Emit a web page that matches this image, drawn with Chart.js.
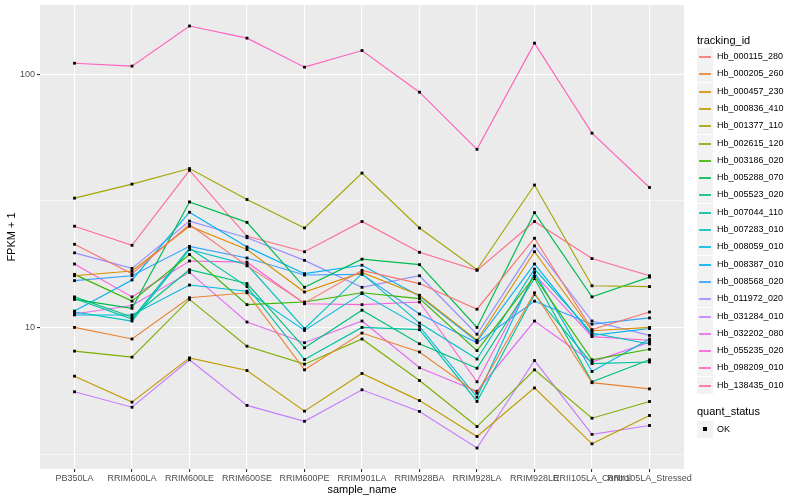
<!DOCTYPE html>
<html>
<head>
<meta charset="utf-8">
<script src="https://cdn.jsdelivr.net/npm/chart.js@4/dist/chart.umd.min.js"></script>
<style>
  body { margin: 0; background: #fff; font-family: "Liberation Sans", Arial, sans-serif; }
  #wrap { position: relative; width: 800px; height: 500px; }
  #chart { position: absolute; left: 0; top: 0; }
  .lg-title { position: absolute; left: 697px; font-size: 11px; color: #000; line-height: 1; }
  .lg-row { position: absolute; left: 697px; height: 17px; }
  .lg-key { position: absolute; left: 0; top: 0; width: 16px; height: 17px; background: #f2f2f2; }
  .lg-key i { position: absolute; left: 2px; right: 2px; top: 8px; height: 2px; opacity: 0.85; }
  .lg-key b { position: absolute; left: 6px; top: 6px; width: 4px; height: 4px; background: #000; }
  .lg-text { position: absolute; left: 20px; top: 3px; font-size: 9px; color: #000; white-space: nowrap; line-height: 1.2; }
</style>
</head>
<body>
<div id="wrap">
  <canvas id="chart" width="800" height="500"></canvas>
  <div id="legend"></div>
</div>
<script>
const categories = ["PB350LA", "RRIM600LA", "RRIM600LE", "RRIM600SE", "RRIM600PE", "RRIM901LA",
  "RRIM928BA", "RRIM928LA", "RRIM928LE", "RRII105LA_Control", "RRII105LA_Stressed"];

const hb_000115_280 = [21.3, 16.3, 25.5, 17.5, 12.5, 16.8, 14.9, 11.8, 22.5, 9.8, 11.5];
const hb_000205_260 = [10.0, 9.0, 13.1, 13.7, 6.8, 9.5, 8.0, 5.5, 13.7, 6.05, 5.72];
const hb_000457_230 = [16.0, 16.7, 25.1, 20.3, 13.8, 16.5, 13.4, 8.9, 19.9, 9.7, 10.0];
const hb_000836_410 = [6.42, 5.07, 7.58, 6.76, 4.67, 6.58, 5.14, 3.71, 5.77, 3.47, 4.49];
const hb_001377_110 = [32.4, 36.8, 42.4, 32.0, 24.7, 40.7, 24.7, 16.9, 36.5, 14.6, 14.5];
const hb_002615_120 = [8.06, 7.63, 12.9, 8.43, 7.16, 9.0, 6.17, 4.06, 6.8, 4.38, 5.1];
const hb_003186_020 = [16.2, 12.7, 19.4, 12.3, 12.6, 13.7, 13.0, 8.1, 15.9, 7.45, 8.2];
const hb_005288_070 = [12.9, 11.9, 31.3, 26.0, 14.4, 18.6, 17.7, 10.0, 28.4, 13.2, 15.8];
const hb_005523_020 = [13.2, 11.0, 16.9, 14.9, 8.31, 11.7, 8.62, 6.9, 15.6, 6.1, 7.45];
const hb_007044_110 = [13.0, 10.8, 20.6, 14.5, 7.47, 10.0, 9.8, 5.1, 13.5, 7.2, 7.3];
const hb_007283_010 = [11.5, 10.6, 20.3, 17.7, 9.88, 16.3, 10.4, 7.5, 17.0, 9.5, 8.6];
const hb_008059_010 = [11.2, 11.2, 14.7, 13.9, 9.73, 13.6, 10.1, 5.3, 16.5, 6.7, 9.0];
const hb_008387_010 = [11.6, 15.4, 28.5, 20.8, 16.3, 17.6, 13.3, 8.8, 17.8, 9.3, 9.9];
const hb_008568_020 = [15.3, 16.0, 20.9, 18.8, 16.1, 16.2, 11.3, 8.7, 12.7, 10.3, 10.9];
const hb_011972_020 = [19.7, 17.1, 26.3, 22.6, 18.4, 14.4, 16.0, 9.4, 21.0, 10.6, 9.3];
const hb_031284_010 = [5.57, 4.84, 7.45, 4.92, 4.26, 5.67, 4.66, 3.34, 7.4, 3.78, 4.1];
const hb_032202_080 = [11.3, 12.2, 16.5, 10.5, 8.70, 10.6, 6.93, 5.6, 10.6, 7.3, 8.75];
const hb_055235_020 = [17.8, 13.2, 18.3, 18.1, 12.4, 12.3, 12.6, 6.1, 16.2, 9.2, 8.9];
const hb_098209_010 = [110.5, 107.6, 155, 138.8, 106.6, 124, 84.9, 50.5, 132.6, 58.5, 35.7];
const hb_138435_010 = [25.1, 21.1, 41.7, 22.9, 19.9, 26.2, 19.8, 16.8, 26.2, 18.7, 16.0];

const trackingIds = ["Hb_000115_280", "Hb_000205_260", "Hb_000457_230", "Hb_000836_410", "Hb_001377_110",
  "Hb_002615_120", "Hb_003186_020", "Hb_005288_070", "Hb_005523_020", "Hb_007044_110", "Hb_007283_010",
  "Hb_008059_010", "Hb_008387_010", "Hb_008568_020", "Hb_011972_020", "Hb_031284_010", "Hb_032202_080",
  "Hb_055235_020", "Hb_098209_010", "Hb_138435_010"];
const seriesValues = [hb_000115_280, hb_000205_260, hb_000457_230, hb_000836_410, hb_001377_110,
  hb_002615_120, hb_003186_020, hb_005288_070, hb_005523_020, hb_007044_110, hb_007283_010,
  hb_008059_010, hb_008387_010, hb_008568_020, hb_011972_020, hb_031284_010, hb_032202_080,
  hb_055235_020, hb_098209_010, hb_138435_010];
const yTicks = [3.1623, 10, 31.623, 100];
const yLabels = { 10: "10", 100: "100" };

// ggplot default hue palette for 20 levels
const colors = ["#F8766D", "#EA8331", "#D89000", "#C09B00", "#A3A500", "#7CAE00", "#39B600", "#00BB4E",
  "#00BF7D", "#00C1A3", "#00BFC4", "#00BAE0", "#00B0F6", "#35A2FF", "#9590FF", "#C77CFF", "#E76BF3",
  "#FA62DB", "#FF62BC", "#FF6C91"];

const panelBg = {
  id: "panelBg",
  beforeDraw(chart) {
    const { ctx, chartArea: a } = chart;
    ctx.save();
    ctx.fillStyle = "#EBEBEB";
    ctx.fillRect(a.left, a.top, a.right - a.left, a.bottom - a.top);
    ctx.restore();
  }
};

const datasets = seriesValues.map((vals, i) => ({
  label: trackingIds[i],
  data: vals.map((v, j) => ({ x: j, y: v })),
  borderColor: colors[i],
  borderWidth: 1.15,
  pointStyle: "rect",
  pointRadius: 2,
  pointBackgroundColor: "#000",
  pointBorderColor: "#000",
  pointBorderWidth: 0,
  tension: 0
}));

const font = { family: "'Liberation Sans', Arial, sans-serif" };

new Chart(document.getElementById("chart").getContext("2d"), {
  type: "line",
  data: { datasets },
  plugins: [panelBg],
  options: {
    responsive: false,
    animation: false,
    layout: { padding: { top: 5, right: 116, left: 0, bottom: 0 } },
    plugins: { legend: { display: false }, tooltip: { enabled: false } },
    scales: {
      x: {
        type: "linear",
        min: -0.6,
        max: 10.6,
        afterBuildTicks: (s) => { s.ticks = categories.map((_, i) => ({ value: i })); },
        afterFit: (s) => { s.height = 31; s.paddingLeft = 0; s.paddingRight = 0; },
        border: { display: false },
        grid: { color: "#FFFFFF", lineWidth: 1.1, tickColor: "#333333", tickLength: 3 },
        ticks: {
          autoSkip: false, maxRotation: 0, padding: 1, color: "#4D4D4D",
          font: { ...font, size: 9 },
          callback: (v) => categories[v]
        },
        title: { display: true, text: "sample_name", color: "#000", font: { ...font, size: 11 }, padding: { top: 0, bottom: 3 } }
      },
      y: {
        type: "logarithmic",
        min: 2.76,
        max: 187.6,
        afterBuildTicks: (s) => { s.ticks = yTicks.map((v) => ({ value: v })); },
        afterFit: (s) => { s.width = 40; s.paddingTop = 0; s.paddingBottom = 0; },
        border: { display: false },
        grid: {
          color: "#FFFFFF",
          lineWidth: (c) => (yLabels[c.tick.value] ? 1.1 : 0.55),
          tickColor: (c) => (yLabels[c.tick.value] ? "#333333" : "rgba(0,0,0,0)"),
          tickLength: 3
        },
        ticks: {
          padding: 2, color: "#4D4D4D", font: { ...font, size: 9 },
          callback: (v) => yLabels[v] || ""
        },
        title: { display: true, text: "FPKM + 1", color: "#000", font: { ...font, size: 11 }, padding: { top: 5, bottom: 0 } }
      }
    }
  }
});

// legend in ggplot style
const legend = document.getElementById("legend");
let html = '<div class="lg-title" style="top:35px">tracking_id</div>';
trackingIds.forEach((id, i) => {
  const top = 48 + i * 17.3;
  html += '<div class="lg-row" style="top:' + top + 'px"><div class="lg-key"><i style="background:' + colors[i] +
    '"></i></div><div class="lg-text">' + id + '</div></div>';
});
html += '<div class="lg-title" style="top:406px">quant_status</div>';
html += '<div class="lg-row" style="top:421px"><div class="lg-key"><b></b></div><div class="lg-text">OK</div></div>';
legend.innerHTML = html;
</script>
</body>
</html>
